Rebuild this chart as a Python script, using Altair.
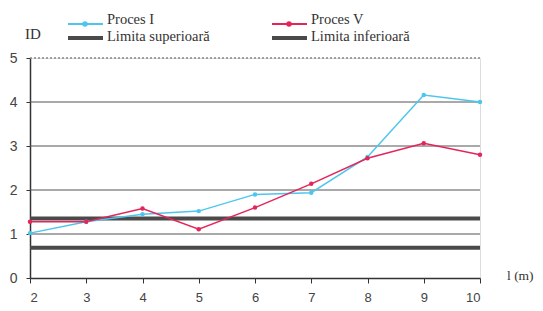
import altair as alt
import pandas as pd

x_vals = [2, 3, 4, 5, 6, 7, 8, 9, 10]
proces_i = [1.02, 1.28, 1.45, 1.52, 1.9, 1.94, 2.75, 4.16, 4.0]
proces_v = [1.28, 1.28, 1.58, 1.11, 1.6, 2.14, 2.72, 3.06, 2.8]
limita_sup = 1.35
limita_inf = 0.69
grid_vals = [1, 2, 3, 4]
series_names = ["Proces I", "Proces V", "Limita superioară", "Limita inferioară"]
colors = ["#4cc6ee", "#e5255a", "#4a4a4a", "#4a4a4a"]
FONT = "Liberation Serif"
TICKFONT = "Liberation Sans"

df = pd.DataFrame({
    "l": x_vals * 2,
    "ID": proces_i + proces_v,
    "serie": [series_names[0]] * len(x_vals) + [series_names[1]] * len(x_vals),
})
lim_df = pd.DataFrame({"y": [limita_sup, limita_inf], "x": [2, 2], "x2": [10, 10],
                       "serie": series_names[2:]})
grid_df = pd.DataFrame({"y": grid_vals})

xs = alt.Scale(domain=[2, 10], nice=False, zero=False)
ys = alt.Scale(domain=[0, 5], nice=False)
cs = alt.Scale(domain=series_names, range=colors)

xaxis = alt.Axis(values=x_vals, grid=False, title=None, labelFont=TICKFONT, labelFontSize=13,
                 labelColor="#444", domainColor="#333", domainWidth=1.5, tickColor="#333",
                 tickSize=5, labelPadding=8)
yaxis = alt.Axis(values=[0, 1, 2, 3, 4, 5], grid=False, title=None, labelFont=TICKFONT,
                 labelFontSize=14, labelColor="#444", domainColor="#333", domainWidth=1.5,
                 tickColor="#333", tickSize=4, labelPadding=9)

grid = alt.Chart(grid_df).mark_rule(color="#555", strokeWidth=1).encode(
    y=alt.Y("y:Q", scale=ys, axis=yaxis),
    x=alt.value(0), x2=alt.value(450))
top = alt.Chart(alt.Data(values=[{"y": 5}])).mark_rule(
    color="#888", strokeWidth=1.5, strokeDash=[2, 2]).encode(
    y=alt.Y("y:Q", scale=ys), x=alt.value(0), x2=alt.value(450))

limits = alt.Chart(lim_df).mark_rule(strokeWidth=4).encode(
    x=alt.X("x:Q", scale=xs, axis=xaxis), x2="x2:Q",
    y=alt.Y("y:Q", scale=ys),
    color=alt.Color("serie:N", scale=cs, legend=None))

lines = alt.Chart(df).mark_line(strokeWidth=1.5, point=alt.OverlayMarkDef(size=20, filled=True)).encode(
    x=alt.X("l:Q", scale=xs, axis=xaxis),
    y=alt.Y("ID:Q", scale=ys, axis=yaxis),
    color=alt.Color("serie:N", scale=cs, legend=None))

one = alt.Data(values=[{}])
leg_layers = []
leg_pos = [(38, -34), (242, -34), (38, -20), (242, -20)]
text_y = [-38, -38, -21, -21]
for i, name in enumerate(series_names):
    lx, ly = leg_pos[i]
    w = 1.8 if i < 2 else 4
    leg_layers.append(alt.Chart(one).mark_rule(color=colors[i], strokeWidth=w).encode(
        x=alt.value(lx), x2=alt.value(lx + 35), y=alt.value(ly)))
    if i < 2:
        leg_layers.append(alt.Chart(one).mark_point(color=colors[i], filled=True, size=30, opacity=1).encode(
            x=alt.value(lx + 17), y=alt.value(ly)))
    leg_layers.append(alt.Chart(one).mark_text(align="left", baseline="middle", font=FONT,
                                              fontSize=14.5, color="#333").encode(
        x=alt.value(lx + 39), y=alt.value(text_y[i]), text=alt.value(name)))

ylab = alt.Chart(one).mark_text(align="left", baseline="middle", font=FONT, fontSize=15,
                                color="#333").encode(x=alt.value(-5), y=alt.value(-24), text=alt.value("ID"))
xlab = alt.Chart(one).mark_text(align="left", baseline="middle", font=FONT, fontSize=13.5,
                                color="#333").encode(x=alt.value(477), y=alt.value(218), text=alt.value("l (m)"))

chart = alt.layer(grid, top, limits, lines, ylab, xlab, *leg_layers).properties(
    width=450, height=220,
    autosize=alt.AutoSizeParams(type="none"),
    padding={"left": 22, "top": 50, "right": 55, "bottom": 25},
).configure_view(stroke="#bbb", strokeWidth=1.5).configure(background="white")

chart.save("out.html", embed_options={"renderer": "svg", "actions": False})
